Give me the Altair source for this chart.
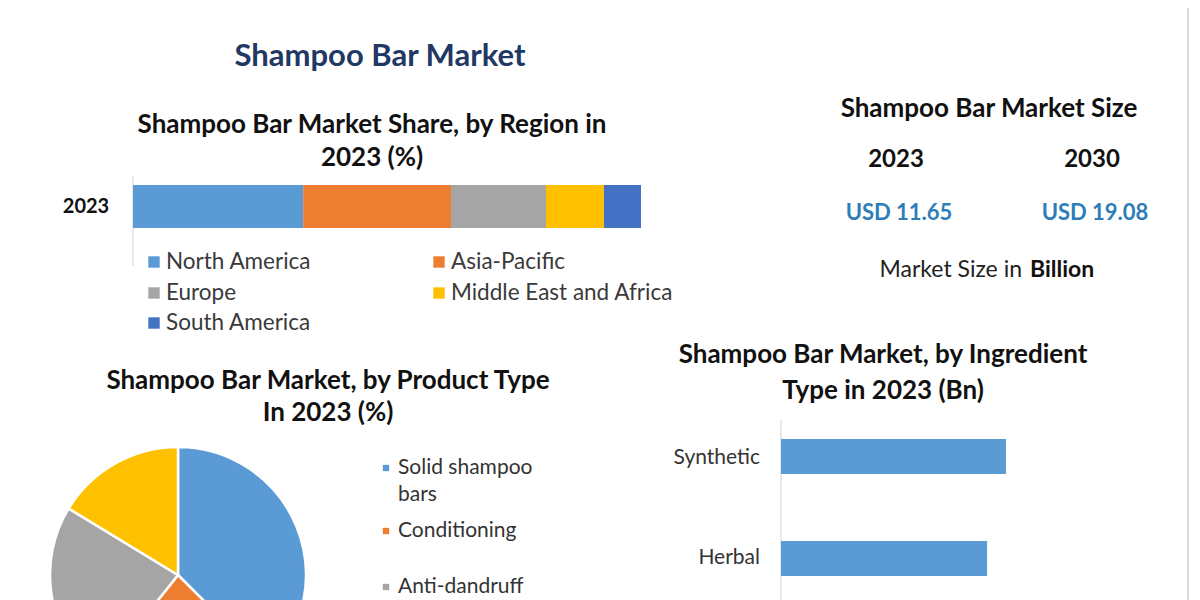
import altair as alt
import pandas as pd

# ---------------- data ----------------
regions = ["North America", "Asia-Pacific", "Europe", "Middle East and Africa", "South America"]
region_share = [33.5, 29.1, 18.7, 11.4, 7.3]
region_colors = ["#5b9bd5", "#ed7d31", "#a5a5a5", "#ffc000", "#4472c4"]

products = ["Solid shampoo bars", "Conditioning", "Anti-dandruff", "Others"]
product_share = [37.5, 23.2, 23.0, 16.3]
product_colors = ["#5b9bd5", "#ed7d31", "#a5a5a5", "#ffc000"]

ingredients = ["Synthetic", "Herbal"]
ingredient_value = [6.08, 5.57]

size_years = ["2023", "2030"]
size_values = ["USD 11.65", "USD 19.08"]

FONT = "Lato"
O = 8  # page margin offset: chart coords = page coords - O
W, H = 1184, 592

def px(v):
    return v - O

def text(t, x, y, size=20, bold=False, color="#000000", align="center"):
    return alt.Chart(pd.DataFrame({"t": [t]})).mark_text(
        x=px(x), y=px(y), fontSize=size, font=FONT,
        fontWeight="bold" if bold else "normal", color=color,
        align=align, baseline="middle",
    ).encode(text="t:N")

def vline(x, y1, y2, color="#d0d0d0", width=1.2):
    return alt.Chart(pd.DataFrame({"a": [0]})).mark_rule(
        color=color, strokeWidth=width
    ).encode(x=alt.value(px(x)), y=alt.value(px(y1)), y2=alt.value(px(y2)))

layers = []

# borders
layers.append(vline(1188, 0, 600, color="#c9ccd2", width=1.5))

# main title
layers.append(text("Shampoo Bar Market", 380, 57, size=31, bold=True, color="#1f3864"))

# ---------------- region stacked bar ----------------
TITLE = 26
layers.append(text("Shampoo Bar Market Share, by Region in", 372, 125, size=TITLE, bold=True, color="#111111"))
layers.append(text("2023 (%)", 372, 158, size=TITLE, bold=True, color="#111111"))

reg_df = pd.DataFrame({"region": regions, "share": region_share,
                       "idx": list(range(len(regions))), "year": ["2023"] * len(regions)})
layers.append(vline(133, 176, 266, color="#d9d9d9"))
layers.append(
    alt.Chart(reg_df).mark_bar().encode(
        x=alt.X("share:Q", stack="zero",
                scale=alt.Scale(domain=[0, 100], range=[px(133), px(641)]), axis=None),
        y=alt.Y("year:N", scale=alt.Scale(range=[px(185), px(228)], paddingInner=0, paddingOuter=0), axis=None),
        color=alt.Color("region:N", scale=alt.Scale(domain=regions, range=region_colors), legend=None),
        order=alt.Order("idx:Q"),
    )
)
layers.append(text("2023", 86, 207, size=20, bold=True, color="#111111"))

# region legend (two columns)
leg_pos = [(148, 262), (433, 262), (148, 293), (433, 293), (148, 323)]
for r, c, (lx, ly) in zip(regions, region_colors, leg_pos):
    layers.append(alt.Chart(pd.DataFrame({"r": [r]})).mark_square(
        x=px(lx + 6), y=px(ly), size=130, color=c, opacity=1).encode(tooltip="r:N"))
    layers.append(text(r, lx + 18, ly, size=22.5, color="#3a3a3a", align="left"))

# ---------------- market size panel ----------------
layers.append(text("Shampoo Bar Market Size", 989, 109, size=TITLE, bold=True, color="#111111"))
for yr, val, cx in zip(size_years, size_values, [896, 1092]):
    layers.append(text(yr, cx, 160, size=24, bold=True, color="#111111"))
    layers.append(text(val, cx + 3, 213, size=22, bold=True, color="#2e7db8"))
layers.append(text("Market Size in", 1022, 270, size=23, color="#222222", align="right"))
layers.append(text("Billion", 1030, 270, size=23, bold=True, color="#111111", align="left"))

# ---------------- product pie ----------------
layers.append(text("Shampoo Bar Market, by Product Type", 328, 381, size=TITLE, bold=True, color="#111111"))
layers.append(text("In 2023 (%)", 328, 413, size=TITLE, bold=True, color="#111111"))

pie_df = pd.DataFrame({"product": products, "share": product_share, "idx": list(range(len(products)))})
layers.append(
    alt.Chart(pie_df).mark_arc(radius=128, x=px(178), y=px(575), stroke="white", strokeWidth=2.5).encode(
        theta=alt.Theta("share:Q", stack=True),
        color=alt.Color("product:N", scale=alt.Scale(domain=products, range=product_colors), legend=None),
        order=alt.Order("idx:Q"),
    )
)
pie_leg = [("Solid shampoo", "bars", 468), ("Conditioning", None, 531), ("Anti-dandruff", None, 587)]
for (l1, l2, ly), c in zip(pie_leg, product_colors):
    layers.append(alt.Chart(pd.DataFrame({"r": [l1]})).mark_square(
        x=px(386), y=px(ly), size=40, color=c, opacity=1).encode(tooltip="r:N"))
    layers.append(text(l1, 398, ly, size=21, color="#333333", align="left"))
    if l2:
        layers.append(text(l2, 398, ly + 27, size=21, color="#333333", align="left"))

# ---------------- ingredient bars ----------------
layers.append(text("Shampoo Bar Market, by Ingredient", 883, 355, size=TITLE, bold=True, color="#111111"))
layers.append(text("Type in 2023 (Bn)", 883, 391, size=TITLE, bold=True, color="#111111"))
layers.append(vline(781, 420, 600, color="#d9d9d9"))
ing_df = pd.DataFrame({"ingredient": ingredients, "value": ingredient_value})
layers.append(
    alt.Chart(ing_df).mark_bar(color="#5b9bd5").encode(
        x=alt.X("value:Q", scale=alt.Scale(domain=[0, 10], range=[px(781), px(1151)]), axis=None),
        y=alt.Y("ingredient:N", sort=ingredients,
                scale=alt.Scale(range=[px(405.5), px(609.5)], paddingInner=0.657, paddingOuter=0.3285),
                axis=None),
    )
)
for name, ly in zip(ingredients, [458, 558]):
    layers.append(text(name, 760, ly, size=21, color="#333333", align="right"))

chart = alt.layer(*layers).resolve_scale(
    x="independent", y="independent", color="independent", theta="independent"
).properties(
    width=W, height=H, autosize=alt.AutoSizeParams(type="none"), padding=0, background="white"
).configure_view(stroke=None)

chart.save("out.html", embed_options={"renderer": "svg", "actions": False})
